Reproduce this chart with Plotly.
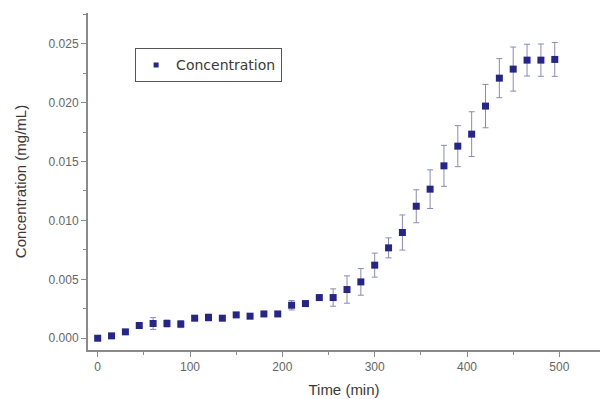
import plotly.graph_objects as go

time_min = [0, 15, 30, 45, 60, 75, 90, 105, 120, 135, 150, 165, 180, 195, 210, 225,
            240, 255, 270, 285, 300, 315, 330, 345, 360, 375, 390, 405, 420, 435, 450,
            465, 480, 495]
concentration = [0.0000, 0.0002, 0.00054, 0.00108, 0.00125, 0.00125, 0.0012, 0.0017,
                 0.00176, 0.0017, 0.00198, 0.00187, 0.00206, 0.00206, 0.0028, 0.00294,
                 0.00345, 0.00345, 0.00413, 0.00478, 0.0062, 0.00767, 0.00897, 0.0112,
                 0.01265, 0.01463, 0.0163, 0.01732, 0.0197, 0.02207, 0.02284, 0.0236,
                 0.0236, 0.02366]
error = [0.0001, 0.0001, 0.0002, 0.0002, 0.0005, 0.0003, 0.0003, 0.0002, 0.0003, 0.0002,
         0.0002, 0.0002, 0.0002, 0.0002, 0.0004, 0.0002, 0.0002, 0.00074, 0.00116, 0.00113,
         0.00102, 0.00085, 0.00149, 0.0014, 0.00164, 0.00174, 0.00174, 0.0019, 0.00184,
         0.00166, 0.00187, 0.00135, 0.00137, 0.00144]

x_ticks = [0, 100, 200, 300, 400, 500]
y_ticks = [0.000, 0.005, 0.010, 0.015, 0.020, 0.025]

FONT = "Liberation Sans, Arial"
MARK = "#26268a"

fig = go.Figure()
fig.add_trace(go.Scatter(
    x=time_min, y=concentration, mode="markers", name="Concentration",
    showlegend=False,
    marker=dict(symbol="square", size=7, color=MARK),
    error_y=dict(type="data", array=error, visible=True, color="#8a8ab8",
                 thickness=1, width=3),
))
# legend entry with the smaller legend symbol
fig.add_trace(go.Scatter(
    x=[None], y=[None], mode="markers", name="Concentration",
    marker=dict(symbol="square", size=5, color=MARK),
))

tick_font = dict(family=FONT, size=12, color="#666666")
title_font = dict(family=FONT, size=15, color="#3a3a3a")
fig.update_layout(
    width=600, height=399,
    margin=dict(l=88, r=0, t=13, b=49),
    paper_bgcolor="white", plot_bgcolor="white",
    showlegend=True,
    legend=dict(x=0.092, y=0.895, xanchor="left", yanchor="top",
                bordercolor="#555555", borderwidth=1,
                font=dict(family="DejaVu Sans", size=14, color="#3a3a3a"),
                bgcolor="white", itemwidth=30, tracegroupgap=0),
    xaxis=dict(range=[-10.5, 544], tickvals=x_ticks, showgrid=False, zeroline=False,
               automargin=False,
               showline=True, linecolor="#8a8a8a", linewidth=2,
               ticks="outside", ticklen=5, tickcolor="#8a8a8a", tickwidth=1,
               minor=dict(dtick=50, tick0=0, ticks="outside", ticklen=3, tickcolor="#8a8a8a"),
               tickfont=tick_font,
               title=dict(text="Time (min)", font=title_font, standoff=11)),
    yaxis=dict(range=[-0.001, 0.0276], tickvals=y_ticks, tickformat=".3f",
               showgrid=False, zeroline=False, automargin=False,
               showline=True, linecolor="#8a8a8a", linewidth=2,
               ticks="outside", ticklen=5, tickcolor="#8a8a8a", tickwidth=1,
               minor=dict(dtick=0.0025, tick0=0, ticks="outside", ticklen=3, tickcolor="#8a8a8a"),
               tickfont=tick_font,
               title=dict(text="Concentration (mg/mL)", font=title_font, standoff=18)),
)

fig.write_html("out.html", config={"displayModeBar": False},
               post_script="document.body.style.margin='0';document.body.style.overflow='hidden';")
